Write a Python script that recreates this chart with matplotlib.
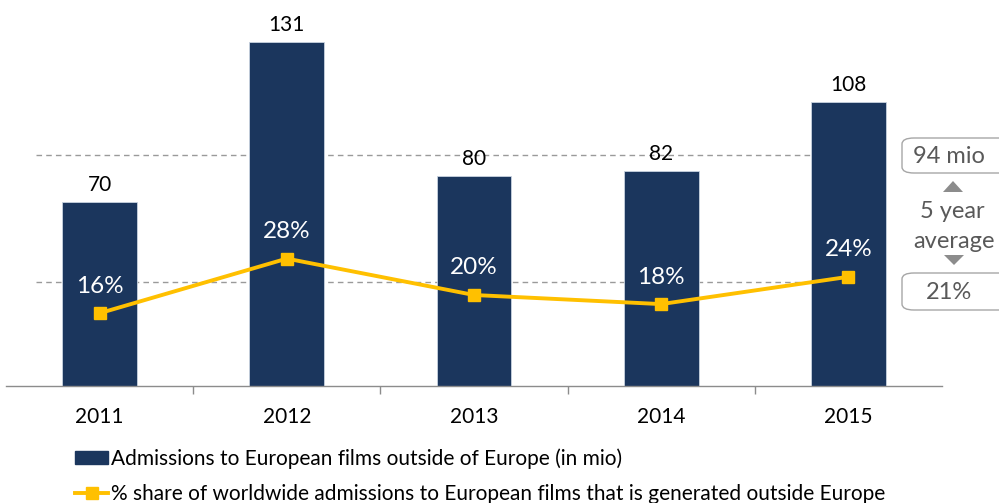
import matplotlib
matplotlib.use("Agg")
import matplotlib.pyplot as plt
from matplotlib.patches import FancyBboxPatch, Patch, Polygon
from matplotlib.lines import Line2D

plt.rcParams['font.family'] = ['Lato', 'DejaVu Sans']

years = ['2011', '2012', '2013', '2014', '2015']
admissions = [70, 131, 80, 82, 108]
share_pct = [16, 28, 20, 18, 24]
avg_labels = ['94 mio', '21%']
guide_levels = [88, 39.6]   # dashed guide lines, read on the admissions scale
bar_label = 'Admissions to European films outside of Europe (in mio)'
line_label = '% share of worldwide admissions to European films that is generated outside Europe'

NAVY = '#1b365d'
GOLD = '#ffc000'
W, H = 999, 503

fig = plt.figure(figsize=(W / 100, H / 100), dpi=100)
ax = fig.add_axes([6 / W, 117 / H, 936 / W, 386 / H])
ax.set_xlim(-0.5, len(years) - 0.5)
ax.set_ylim(0, 147)

x = list(range(len(years)))
ax.bar(x, admissions, width=0.40, color=NAVY, edgecolor='#c8d3e0', linewidth=0.6, zorder=2)
for xi, v in zip(x, admissions):
    ax.annotate(str(v), (xi, v), xytext=(0, 5), textcoords='offset points',
                ha='center', va='bottom', fontsize=15, color='black')

# dashed guide lines
for g in guide_levels:
    ax.plot([-0.34, 4.11], [g, g], color='#9a9a9a', lw=1.0, ls=(0, (4, 3)), zorder=1)

ax2 = ax.twinx()
ax2.set_ylim(0, 386 / 4.55)
ax2.plot(x, share_pct, color=GOLD, lw=2.8, marker='s', markersize=9,
         markerfacecolor=GOLD, markeredgecolor=GOLD, zorder=3)
for xi, v in zip(x, share_pct):
    ax2.annotate(f'{v}%', (xi, v), xytext=(0, 19.5), textcoords='offset points',
                 ha='center', va='center', fontsize=17.5, color='white')

for a in (ax, ax2):
    for s in ('top', 'right', 'left'):
        a.spines[s].set_visible(False)
    a.set_yticks([])
ax2.spines['bottom'].set_visible(False)
ax.spines['bottom'].set_color('#8c8c8c')
ax.spines['bottom'].set_linewidth(1.0)

ax.set_xticks(x)
ax.set_xticklabels(years, fontsize=15, color='black')
ax.tick_params(axis='x', which='major', length=0, pad=15)
ax.set_xticks([i + 0.5 for i in x[:-1]], minor=True)
ax.tick_params(axis='x', which='minor', length=6, color='#8c8c8c', width=1, direction='out')

# 5 year average annotation on the right
for (y0, y1), lab in zip([(138, 173), (273, 310)], avg_labels):
    box = FancyBboxPatch((902 / W, 1 - y1 / H), 110 / W, (y1 - y0) / H,
                         boxstyle='round,pad=0,rounding_size=0.012',
                         transform=fig.transFigure, facecolor='white',
                         edgecolor='#a6a6a6', linewidth=1.0, clip_on=False)
    fig.add_artist(box)
    fig.text(949 / W, 1 - ((y0 + y1) / 2 + 1) / H, lab, ha='center', va='center',
             fontsize=17, color='#595959')
fig.text(952 / W, 1 - 211 / H, '5 year', ha='center', va='center', fontsize=17, color='#595959')
fig.text(954 / W, 1 - 241 / H, 'average', ha='center', va='center', fontsize=17, color='#595959')


def tri(cx, ytop, ybot, up):
    pts = [(cx - 10, ybot), (cx + 10, ybot), (cx, ytop)] if up else \
          [(cx - 10, ytop), (cx + 10, ytop), (cx, ybot)]
    fig.add_artist(Polygon([(px / W, 1 - py / H) for px, py in pts], closed=True,
                           transform=fig.transFigure, facecolor='#8c8c8c',
                           edgecolor='none'))


tri(953, 181, 192, True)
tri(954, 255, 265, False)

handles = [Patch(facecolor=NAVY, edgecolor=NAVY),
           Line2D([0], [0], color=GOLD, lw=2.8, marker='s', markersize=9)]
fig.legend(handles, [bar_label, line_label], loc='upper left',
           bbox_to_anchor=(75 / W, 1 - 448 / H), frameon=False, fontsize=15,
           handlelength=1.6, handleheight=0.55, handletextpad=0.15,
           labelspacing=0.75, borderpad=0, borderaxespad=0)

fig.savefig('out.png', dpi=100)
